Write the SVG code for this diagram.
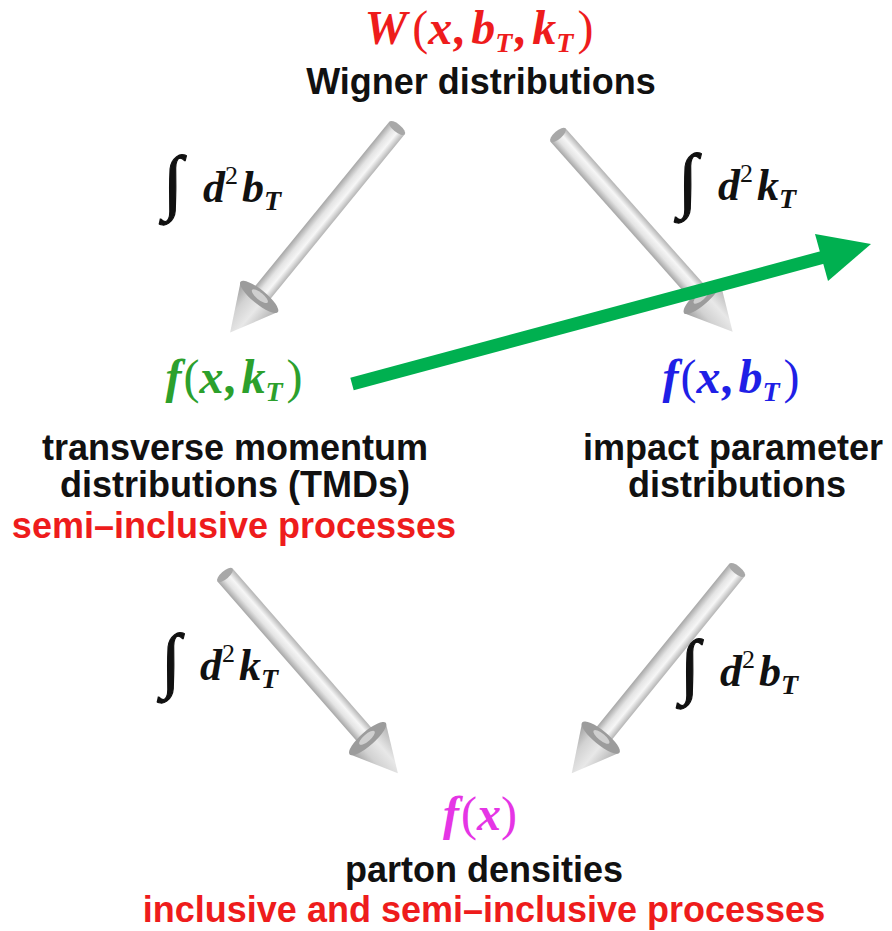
<svg xmlns="http://www.w3.org/2000/svg" width="892" height="931" viewBox="0 0 892 931">
  <defs>
    <linearGradient id="cyl" x1="0" y1="0" x2="0" y2="1">
      <stop offset="0" stop-color="#b4b4b4"/>
      <stop offset="0.35" stop-color="#f6f6f6"/>
      <stop offset="0.65" stop-color="#e4e4e4"/>
      <stop offset="1" stop-color="#a6a6a6"/>
    </linearGradient>
    <linearGradient id="cone" x1="0" y1="0" x2="0" y2="1">
      <stop offset="0" stop-color="#b0b0b0"/>
      <stop offset="0.4" stop-color="#e8e8e8"/>
      <stop offset="0.7" stop-color="#d2d2d2"/>
      <stop offset="1" stop-color="#9c9c9c"/>
    </linearGradient>
  </defs>
  <style>
    .lab { font-family: "Liberation Sans", Arial, sans-serif; font-weight: bold; font-size: 36px; text-anchor: middle; }
    .blk { fill: #111111; }
    .red { fill: #ee1c1c; }
    .math { font-family: "Liberation Serif", "Times New Roman", serif; font-weight: bold; font-style: italic; font-size: 48px; }
    .up { font-style: normal; font-weight: normal; }
    .sub { font-size: 28px; }
    .int { font-family: "Liberation Serif", "Times New Roman", serif; font-weight: normal; font-style: normal; font-size: 72px; fill: #111111; stroke: #111111; stroke-width: 1.2; }
    .imath { font-family: "Liberation Serif", "Times New Roman", serif; font-weight: bold; font-style: italic; font-size: 44px; fill: #111111; }
    .sup { font-size: 26px; font-style: normal; font-weight: normal; }
  </style>

  <g id="connectors">
    <g id="arrow-w-tmd" transform="translate(397,128) rotate(129.2)">
      <rect x="0" y="-10" width="222" height="20" fill="url(#cyl)"/>
      <ellipse cx="0" cy="0" rx="4" ry="10" fill="#a8a8a8"/>
      <path d="M218,-24 L264,0 L218,24 Z" fill="url(#cone)"/>
      <ellipse cx="218" cy="0" rx="7" ry="24" fill="#9c9c9c"/>
      <ellipse cx="217" cy="0" rx="3.5" ry="10" fill="#cfcfcf"/>
    </g>
    <g id="arrow-w-ipd" transform="translate(558,135) rotate(48.4)">
      <rect x="0" y="-10" width="221" height="20" fill="url(#cyl)"/>
      <ellipse cx="0" cy="0" rx="4" ry="10" fill="#a8a8a8"/>
      <path d="M217,-24 L263,0 L217,24 Z" fill="url(#cone)"/>
      <ellipse cx="217" cy="0" rx="7" ry="24" fill="#9c9c9c"/>
      <ellipse cx="216" cy="0" rx="3.5" ry="10" fill="#cfcfcf"/>
    </g>
    <g id="arrow-tmd-pdf" transform="translate(225,575) rotate(48.9)">
      <rect x="0" y="-10" width="221" height="20" fill="url(#cyl)"/>
      <ellipse cx="0" cy="0" rx="4" ry="10" fill="#a8a8a8"/>
      <path d="M217,-24 L263,0 L217,24 Z" fill="url(#cone)"/>
      <ellipse cx="217" cy="0" rx="7" ry="24" fill="#9c9c9c"/>
      <ellipse cx="216" cy="0" rx="3.5" ry="10" fill="#cfcfcf"/>
    </g>
    <g id="arrow-ipd-pdf" transform="translate(737,570) rotate(129.1)">
      <rect x="0" y="-10" width="220" height="20" fill="url(#cyl)"/>
      <ellipse cx="0" cy="0" rx="4" ry="10" fill="#a8a8a8"/>
      <path d="M216,-24 L262,0 L216,24 Z" fill="url(#cone)"/>
      <ellipse cx="216" cy="0" rx="7" ry="24" fill="#9c9c9c"/>
      <ellipse cx="215" cy="0" rx="3.5" ry="10" fill="#cfcfcf"/>
    </g>

    <g id="int-tl">
      <text class="int" x="163" y="206">∫</text>
      <text class="imath" x="203" y="202">d<tspan class="sup" dy="-18">2</tspan><tspan dy="18" dx="4">b</tspan><tspan class="sub" dy="8">T</tspan></text>
    </g>
    <g id="int-tr">
      <text class="int" x="678" y="204">∫</text>
      <text class="imath" x="718" y="200">d<tspan class="sup" dy="-18">2</tspan><tspan dy="18" dx="4">k</tspan><tspan class="sub" dy="8">T</tspan></text>
    </g>
    <g id="int-bl">
      <text class="int" x="161" y="684">∫</text>
      <text class="imath" x="200" y="680">d<tspan class="sup" dy="-18">2</tspan><tspan dy="18" dx="4">k</tspan><tspan class="sub" dy="8">T</tspan></text>
    </g>
    <g id="int-br">
      <text class="int" x="680" y="690">∫</text>
      <text class="imath" x="720" y="686">d<tspan class="sup" dy="-18">2</tspan><tspan dy="18" dx="4">b</tspan><tspan class="sub" dy="8">T</tspan></text>
    </g>

    <g id="green-arrow">
      <line x1="352" y1="384" x2="824" y2="257" stroke="#00b050" stroke-width="13"/>
      <polygon points="815,234 871,244 828,281" fill="#00b050"/>
    </g>
  </g>

  <g id="node-wigner">
    <text class="math" x="479" y="44" text-anchor="middle" fill="#ee1c1c">W<tspan class="up" dx="5">(</tspan>x<tspan dx="2">,</tspan><tspan dx="5">b</tspan><tspan class="sub" dy="8">T</tspan><tspan dy="-8" dx="3">,</tspan><tspan dx="5">k</tspan><tspan class="sub" dy="8">T</tspan><tspan class="up" dy="-8" dx="4">)</tspan></text>
    <text class="lab blk" x="481" y="94">Wigner distributions</text>
  </g>

  <g id="node-tmd">
    <text class="math" x="234" y="393" text-anchor="middle" fill="#2ca02c">f<tspan class="up" dx="2">(</tspan>x<tspan dx="2">,</tspan><tspan dx="4">k</tspan><tspan class="sub" dy="8">T</tspan><tspan class="up" dy="-8" dx="4">)</tspan></text>
    <text class="lab blk" x="235" y="460">transverse momentum</text>
    <text class="lab blk" x="235" y="497">distributions (TMDs)</text>
    <text class="lab red" x="234" y="538">semi–inclusive processes</text>
  </g>

  <g id="node-ipd">
    <text class="math" x="731" y="393" text-anchor="middle" fill="#1f1fe6">f<tspan class="up" dx="2">(</tspan>x<tspan dx="2">,</tspan><tspan dx="4">b</tspan><tspan class="sub" dy="8">T</tspan><tspan class="up" dy="-8" dx="4">)</tspan></text>
    <text class="lab blk" x="733" y="460">impact parameter</text>
    <text class="lab blk" x="737" y="497">distributions</text>
  </g>

  <g id="node-pdf">
    <text class="math" x="480" y="830" text-anchor="middle" fill="#e535e5">f<tspan class="up" dx="2">(</tspan>x<tspan class="up">)</tspan></text>
    <text class="lab blk" x="484" y="882">parton densities</text>
    <text class="lab red" x="484" y="922">inclusive and semi–inclusive processes</text>
  </g>
</svg>
